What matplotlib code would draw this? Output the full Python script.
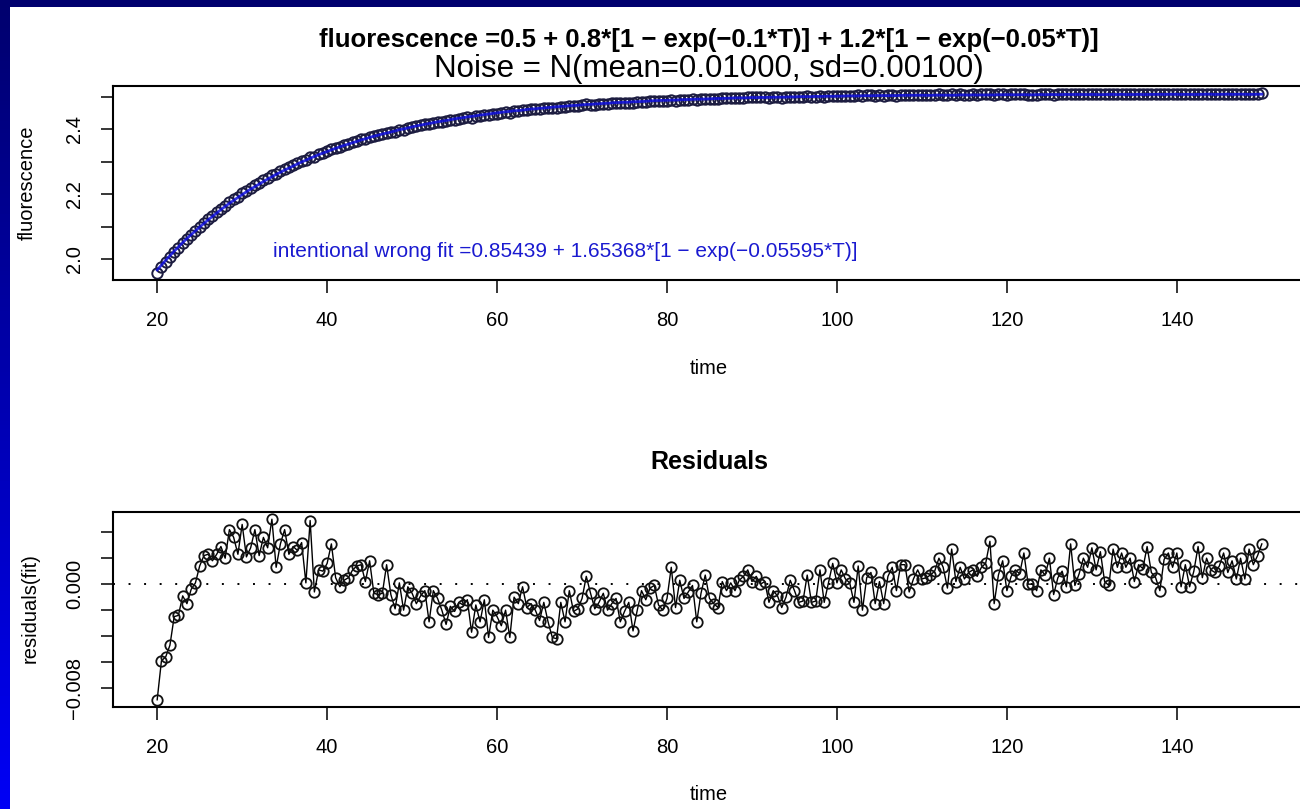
import numpy as np
import matplotlib
matplotlib.use('Agg')
import matplotlib.pyplot as plt
from matplotlib.colors import LinearSegmentedColormap
from matplotlib.patches import Rectangle

plt.rcParams['font.family'] = ['Liberation Sans', 'DejaVu Sans']

# measurements every half time unit from 20 to 150
time = np.arange(20, 150.5, 0.5)

fluor = [
    1.959, 1.977, 1.992, 2.007, 2.023, 2.036, 2.051, 2.063, 2.076, 2.088,
    2.101, 2.113, 2.124, 2.134, 2.145, 2.156, 2.165, 2.177, 2.185, 2.193,
    2.204, 2.210, 2.219, 2.228, 2.234, 2.243, 2.250, 2.259, 2.263, 2.271,
    2.279, 2.283, 2.290, 2.296, 2.303, 2.305, 2.316, 2.316, 2.323, 2.328,
    2.333, 2.340, 2.342, 2.346, 2.351, 2.355, 2.360, 2.364, 2.369, 2.371,
    2.377, 2.378, 2.381, 2.385, 2.390, 2.391, 2.393, 2.399, 2.399, 2.404,
    2.407, 2.409, 2.412, 2.415, 2.415, 2.420, 2.422, 2.423, 2.424, 2.428,
    2.430, 2.433, 2.434, 2.437, 2.436, 2.440, 2.441, 2.444, 2.443, 2.447,
    2.448, 2.449, 2.452, 2.451, 2.456, 2.456, 2.459, 2.459, 2.461, 2.461,
    2.462, 2.464, 2.464, 2.464, 2.465, 2.469, 2.468, 2.472, 2.471, 2.472,
    2.474, 2.477, 2.476, 2.476, 2.477, 2.479, 2.478, 2.480, 2.481, 2.480,
    2.481, 2.482, 2.481, 2.483, 2.485, 2.485, 2.487, 2.488, 2.487, 2.487,
    2.488, 2.491, 2.488, 2.491, 2.490, 2.491, 2.492, 2.490, 2.492, 2.494,
    2.493, 2.493, 2.493, 2.495, 2.495, 2.496, 2.496, 2.497, 2.497, 2.498,
    2.498, 2.498, 2.498, 2.498, 2.497, 2.498, 2.498, 2.497, 2.498, 2.500,
    2.499, 2.499, 2.499, 2.501, 2.499, 2.500, 2.502, 2.500, 2.502, 2.503,
    2.502, 2.503, 2.503, 2.503, 2.501, 2.504, 2.501, 2.504, 2.504, 2.502,
    2.504, 2.502, 2.504, 2.505, 2.503, 2.506, 2.506, 2.504, 2.505, 2.506,
    2.505, 2.505, 2.505, 2.506, 2.507, 2.506, 2.505, 2.508, 2.505, 2.507,
    2.506, 2.506, 2.507, 2.506, 2.507, 2.507, 2.509, 2.504, 2.507, 2.508,
    2.506, 2.507, 2.507, 2.507, 2.509, 2.506, 2.506, 2.506, 2.508, 2.507,
    2.509, 2.506, 2.507, 2.508, 2.507, 2.510, 2.507, 2.508, 2.509, 2.508,
    2.510, 2.508, 2.509, 2.507, 2.507, 2.510, 2.508, 2.510, 2.508, 2.509,
    2.507, 2.509, 2.508, 2.510, 2.508, 2.508, 2.507, 2.509, 2.510, 2.509,
    2.510, 2.507, 2.509, 2.507, 2.508, 2.510, 2.508, 2.510, 2.509, 2.508,
    2.509, 2.510, 2.509, 2.509, 2.508, 2.510, 2.508, 2.510, 2.509, 2.510,
    2.511,
]

# residuals of the wrong fit, in units of 0.001
resid_milli = [
    -8.9, -5.9, -5.6, -4.7, -2.5, -2.4, -0.9, -1.5, -0.4, 0.1,
    1.4, 2.2, 2.3, 1.8, 2.3, 2.9, 2.0, 4.2, 3.6, 2.3,
    4.6, 2.1, 2.8, 4.2, 2.2, 3.6, 2.8, 5.0, 1.3, 3.1,
    4.2, 2.3, 2.9, 2.6, 3.2, 0.1, 4.9, -0.6, 1.1, 1.0,
    1.6, 3.1, 0.5, -0.2, 0.3, 0.5, 1.1, 1.4, 1.5, 0.2,
    1.8, -0.7, -0.8, -0.7, 1.5, -0.8, -1.9, 0.1, -2.0, -0.2,
    -0.7, -1.5, -0.9, -0.5, -2.9, -0.5, -1.1, -2.0, -3.1, -1.7,
    -2.1, -1.4, -1.6, -1.2, -3.7, -1.6, -2.9, -1.2, -4.1, -2.0,
    -2.5, -3.2, -2.0, -4.1, -1.0, -1.5, -0.2, -1.8, -1.5, -2.0,
    -2.8, -1.4, -2.9, -4.1, -4.2, -1.4, -2.9, -0.5, -2.1, -1.9,
    -1.1, 0.6, -0.7, -1.9, -1.4, -0.7, -2.0, -1.5, -1.1, -2.9,
    -2.1, -1.4, -3.6, -2.0, -0.5, -1.2, -0.3, -0.1, -1.6, -2.0,
    -1.1, 1.3, -1.8, 0.3, -1.1, -0.6, -0.1, -2.9, -0.7, 0.7,
    -1.1, -1.5, -1.8, 0.2, -0.5, 0.1, -0.5, 0.3, 0.6, 1.1,
    0.2, 0.6, 0.0, 0.2, -1.4, -0.5, -0.9, -1.8, -1.0, 0.3,
    -0.5, -1.4, -1.3, 0.7, -1.4, -1.3, 1.1, -1.4, 0.1, 1.6,
    0.1, 1.1, 0.4, 0.1, -1.4, 1.4, -2.0, 0.5, 0.9, -1.5,
    0.2, -1.5, 0.6, 1.3, -0.5, 1.5, 1.5, -0.6, 0.4, 1.1,
    0.4, 0.5, 0.7, 1.0, 2.0, 1.3, -0.3, 2.7, 0.2, 1.3,
    0.4, 0.9, 1.1, 0.6, 1.3, 1.6, 3.3, -1.5, 0.7, 1.8,
    -0.5, 0.6, 1.1, 0.8, 2.4, 0.0, 0.0, -0.5, 1.1, 0.7,
    2.0, -0.8, 0.5, 1.0, -0.2, 3.1, -0.1, 0.8, 2.0, 1.3,
    2.8, 1.1, 2.5, 0.2, -0.1, 2.7, 1.3, 2.4, 1.3, 2.0,
    0.2, 1.5, 1.2, 2.9, 0.9, 0.5, -0.5, 1.9, 2.4, 1.3,
    2.4, -0.2, 1.5, -0.2, 1.0, 2.9, 0.5, 2.0, 1.1, 0.9,
    1.4, 2.4, 0.9, 1.8, 0.4, 2.0, 0.4, 2.7, 1.5, 2.2,
    3.1,
]

x_ticks = [20, 40, 60, 80, 100, 120, 140]
fl_ticks = [2.0, 2.1, 2.2, 2.3, 2.4, 2.5]
fl_labels = ['2.0', '', '2.2', '', '2.4', '']
res_ticks = [-0.008, -0.006, -0.004, -0.002, 0.0, 0.002, 0.004]
res_labels = ['\u22120.008', '', '', '', '0.000', '', '']

title_main = 'fluorescence =0.5 + 0.8*[1 \u2212 exp(\u22120.1*T)] + 1.2*[1 \u2212 exp(\u22120.05*T)]'
title_noise = 'Noise = N(mean=0.01000, sd=0.00100)'
fit_text = 'intentional wrong fit =0.85439 + 1.65368*[1 \u2212 exp(\u22120.05595*T)]'

fluor = np.array(fluor)
resid = np.array(resid_milli) / 1000
fitted = fluor - resid

W, H = 1300, 809
fig = plt.figure(figsize=(13, 8.09), dpi=100, facecolor='white')

# blue slide border (top strip + left gradient strip)
bg = fig.add_axes([0, 0, 1, 1])
bg.axis('off')
bg.add_patch(Rectangle((0, 0), W, 7, color='#00006e', lw=0))
frame_cmap = LinearSegmentedColormap.from_list('frame', ['#00006e', '#0000f5'])
bg.imshow(np.linspace(0, 1, 200).reshape(-1, 1), cmap=frame_cmap,
          extent=(0, 10, H, 0), aspect='auto')
bg.set_xlim(0, W)
bg.set_ylim(H, 0)


def px_box(x0, y0, x1, y1):
    return [x0 / W, 1 - y1 / H, (x1 - x0) / W, (y1 - y0) / H]


def r_limits(vals):
    lo, hi = np.min(vals), np.max(vals)
    pad = 0.04 * (hi - lo)
    return lo - pad, hi + pad


def style_axes(ax):
    for sp in ax.spines.values():
        sp.set_linewidth(1.5)
    ax.tick_params(direction='out', length=9, width=1.1, labelsize=14.5, pad=13)
    ax.tick_params(axis='y', pad=12)
    ax.set_xticks(x_ticks)


ax1 = fig.add_axes(px_box(113, 86, 1306, 280))
ax1.plot(time, fluor, 'o', ms=7.5, mfc='none', mec='#1c1c40', mew=1.4, zorder=2)
ax1.plot(time, fitted, color='#1010dd', lw=2.0, alpha=0.85, zorder=3)
ax1.set_xlim(r_limits(time))
ax1.set_ylim(r_limits(fluor))
style_axes(ax1)
ax1.set_yticks(fl_ticks)
ax1.set_yticklabels(fl_labels, rotation=90, va='center')
ax1.text(68, 2.024, fit_text, color='#1a1ad0', ha='center', va='center', fontsize=15)

ax2 = fig.add_axes(px_box(113, 512, 1306, 707))
ax2.plot(time, resid, '-', color='black', lw=1.0, zorder=2)
ax2.plot(time, resid, 'o', ms=7.5, mfc='none', mec='#111111', mew=1.3, zorder=3)
ax2.axhline(0, color='black', lw=1.4, ls=(0, (1, 7)), zorder=1)
ax2.set_xlim(r_limits(time))
ax2.set_ylim(r_limits(resid))
style_axes(ax2)
ax2.set_yticks(res_ticks)
ax2.set_yticklabels(res_labels, rotation=90, va='center')

cx = 709 / W
fig.text(cx, 1 - 40 / H, title_main, fontsize=18.5, weight='bold', ha='center', va='center')
fig.text(cx, 1 - 69 / H, title_noise, fontsize=22.5, ha='center', va='center')
fig.text(27 / W, 1 - 183 / H, 'fluorescence', fontsize=14.5, rotation=90, ha='center', va='center')
fig.text(cx, 1 - 368 / H, 'time', fontsize=14.5, ha='center', va='center')
fig.text(cx, 1 - 462 / H, 'Residuals', fontsize=18, weight='bold', ha='center', va='center')
fig.text(30 / W, 1 - 608 / H, 'residuals(fit)', fontsize=14.5, rotation=90, ha='center', va='center')
fig.text(cx, 1 - 795 / H, 'time', fontsize=14.5, ha='center', va='center')

fig.savefig('out.png', dpi=100, facecolor='white')
